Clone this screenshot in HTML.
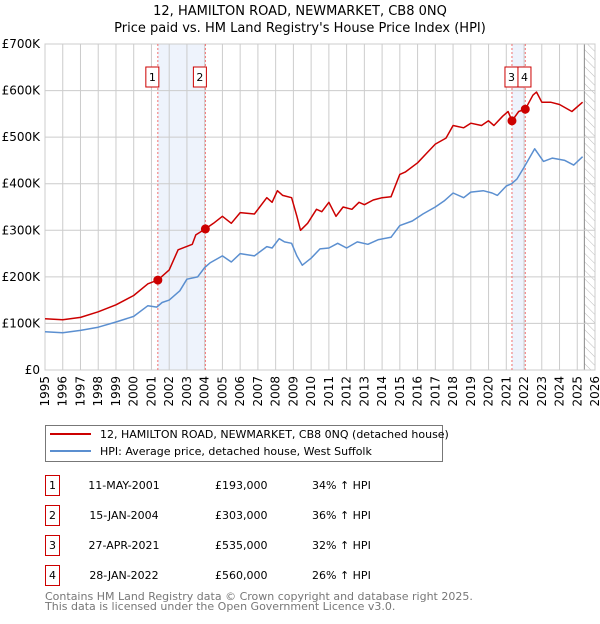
<!DOCTYPE html>
<html><head><meta charset="utf-8"><style>
body{margin:0;background:#fff;font-family:"DejaVu Sans","Liberation Sans",sans-serif;}
svg text{font-family:"DejaVu Sans","Liberation Sans",sans-serif;}
</style></head><body>
<svg id="chart" width="600" height="620" xmlns="http://www.w3.org/2000/svg">
<defs><pattern id="hatch" width="6" height="6" patternUnits="userSpaceOnUse" patternTransform="rotate(-45)"><line x1="0" y1="0" x2="0" y2="6" stroke="#bbb" stroke-width="1"/></pattern></defs>
<text x="300" y="15" text-anchor="middle" font-size="13">12, HAMILTON ROAD, NEWMARKET, CB8 0NQ</text>
<text x="300" y="32" text-anchor="middle" font-size="13">Price paid vs. HM Land Registry's House Price Index (HPI)</text>
<g id="plot"></g>
<g>
<rect x="45.5" y="425.5" width="397" height="36" fill="#fff" stroke="#777"/>
<line x1="50" y1="434" x2="91" y2="434" stroke="#cc0000" stroke-width="2"/>
<text x="100" y="438" font-size="11">12, HAMILTON ROAD, NEWMARKET, CB8 0NQ (detached house)</text>
<line x1="50" y1="451" x2="91" y2="451" stroke="#5b8fd0" stroke-width="2"/>
<text x="100" y="455" font-size="11">HPI: Average price, detached house, West Suffolk</text>
</g>
<g id="table"></g>
<text x="45" y="600" font-size="11" fill="#777">Contains HM Land Registry data © Crown copyright and database right 2025.</text>
<text x="45" y="610" font-size="11" fill="#777">This data is licensed under the Open Government Licence v3.0.</text>
</svg>
<script>
const redYears=[1995,1996,1997,1998,1999,2000,2000.8,2001.36,2002,2002.5,2003.3,2003.5,2004.04,2004.5,2005,2005.5,2006,2006.8,2007.5,2007.8,2008.1,2008.4,2008.9,2009.2,2009.4,2009.8,2010.3,2010.6,2011,2011.4,2011.8,2012.3,2012.7,2013,2013.5,2014,2014.5,2015,2015.3,2016,2016.5,2017,2017.6,2018,2018.6,2019,2019.6,2020,2020.3,2020.8,2021.1,2021.32,2021.7,2022.07,2022.5,2022.7,2023,2023.5,2024,2024.7,2025.3];
const redValues=[110,108,113,125,140,160,185,193,215,258,270,290,303,315,330,315,338,335,370,360,385,375,370,330,300,315,345,340,360,330,350,345,360,355,365,370,372,420,425,445,465,485,498,525,520,530,525,535,525,545,555,535,555,560,590,597,575,575,570,555,575];
const hpiYears=[1995,1996,1997,1998,1999,2000,2000.8,2001.3,2001.6,2002,2002.6,2003,2003.6,2004,2004.3,2005,2005.5,2006,2006.8,2007.5,2007.8,2008.2,2008.5,2008.9,2009.2,2009.5,2010,2010.5,2011,2011.5,2012,2012.6,2013.2,2013.8,2014.5,2015,2015.7,2016.3,2017,2017.5,2018,2018.6,2019,2019.7,2020.2,2020.5,2021,2021.3,2021.6,2022,2022.6,2023.1,2023.6,2024.3,2024.8,2025.3];
const hpiValues=[82,80,85,92,103,115,138,135,145,150,170,195,200,220,230,245,232,250,245,265,262,282,275,272,245,225,240,260,262,272,262,275,270,280,285,310,320,335,350,363,380,370,382,385,380,375,395,400,410,435,475,448,455,450,440,458];
const saleLabels=["1","2","3","4"];
const saleYears=[2001.36,2004.04,2021.32,2022.07];
const salePrices=[193,303,535,560];
const saleDates=["11-MAY-2001","15-JAN-2004","27-APR-2021","28-JAN-2022"];
const salePriceText=["£193,000","£303,000","£535,000","£560,000"];
const saleHpiText=["34% ↑ HPI","36% ↑ HPI","32% ↑ HPI","26% ↑ HPI"];
const yTicks=[0,100,200,300,400,500,600,700];
const yTickLabels=["£0","£100K","£200K","£300K","£400K","£500K","£600K","£700K"];
const xTicks=[1995,1996,1997,1998,1999,2000,2001,2002,2003,2004,2005,2006,2007,2008,2009,2010,2011,2012,2013,2014,2015,2016,2017,2018,2019,2020,2021,2022,2023,2024,2025,2026];

const NS="http://www.w3.org/2000/svg";
const L=45,R=595,T=44,B=370;
const xs=y=>L+(y-1995)/31*(R-L);
const ys=v=>B-v/700*(B-T);
function mk(tag,attrs,parent){const e=document.createElementNS(NS,tag);for(const k in attrs)e.setAttribute(k,attrs[k]);parent.appendChild(e);return e;}
const P=document.getElementById('plot');
let s1=mk('rect',{x:xs(saleYears[0]),y:T,width:xs(saleYears[1])-xs(saleYears[0]),height:B-T,fill:'#eef3fc'},P);


let s2=mk('rect',{x:xs(saleYears[2]),y:T,width:xs(saleYears[3])-xs(saleYears[2]),height:B-T,fill:'#eef3fc'},P);


let h=mk('rect',{x:xs(2025.4),y:T,width:R-xs(2025.4),height:B-T,fill:'url(#hatch)'},P);


mk('line',{x1:xs(2025.4),y1:T,x2:xs(2025.4),y2:B,stroke:'#888'},P);
xTicks.forEach(t=>{
 let g=mk('line',{x1:xs(t),y1:T,x2:xs(t),y2:B,stroke:'#ccc'},P);
 
 
 let tx=mk('text',{x:xs(t)+4,y:B+6,'font-size':12,'text-anchor':'end',transform:`rotate(-90 ${xs(t)+4} ${B+6})`},P);
 tx.textContent=t;
 
 
});
yTicks.forEach((t,i)=>{
 let g=mk('line',{x1:L,y1:ys(t),x2:R,y2:ys(t),stroke:'#ccc'},P);
 
 
 let tx=mk('text',{x:L-5,y:ys(t)+4,'font-size':12,'text-anchor':'end'},P);
 tx.textContent=yTickLabels[i];
 
 
});
mk('rect',{x:L,y:T,width:R-L,height:B-T,fill:'none',stroke:'#ccc'},P);
saleYears.forEach((y,i)=>{
 let v=mk('line',{x1:xs(y),y1:T,x2:xs(y),y2:B,stroke:'#f07070','stroke-dasharray':'2,2'},P);
 
 
});
function line(xa,va,color,name){
 let d=xa.map((x,i)=>(i?'L':'M')+xs(x).toFixed(1)+','+ys(va[i]).toFixed(1)).join('');
 let p=mk('path',{d:d,fill:'none',stroke:color,'stroke-width':1.5,'stroke-linejoin':'round'},P);
 
 
}
line(hpiYears,hpiValues,'#5b8fd0','hpi-line');
line(redYears,redValues,'#cc0000','price-paid-line');
saleYears.forEach((y,i)=>{
 let c=mk('circle',{cx:xs(y),cy:ys(salePrices[i]),r:4.5,fill:'#cc0000'},P);
 
 
});
saleLabels.forEach((s,i)=>{
 let bx=i<2?xs(saleYears[i])-12:(i==2?xs(saleYears[2])-7:xs(saleYears[2])+6);
 let g=mk('g',{},P);
 
 
 mk('rect',{x:bx,y:67,width:13,height:20,fill:'#fff',stroke:'#cc0000'},g);
 let t=mk('text',{x:bx+6.5,y:81,'font-size':11,'text-anchor':'middle'},g);
 t.textContent=s;
});
const TB=document.getElementById('table');
saleLabels.forEach((s,i)=>{
 const y=475+i*30;
 let g=mk('g',{},TB);
 
 
 mk('rect',{x:45.5,y:y+0.5,width:14,height:20,fill:'#fff',stroke:'#cc0000'},g);
 let a=mk('text',{x:52.5,y:y+14,'font-size':11,'text-anchor':'middle'},g);a.textContent=s;
 let b=mk('text',{x:124,y:y+14,'font-size':11,'text-anchor':'middle'},g);b.textContent=saleDates[i];
 let c=mk('text',{x:215,y:y+14,'font-size':11},g);c.textContent=salePriceText[i];
 let d=mk('text',{x:312,y:y+14,'font-size':11},g);d.textContent=saleHpiText[i];
});
</script>
</body></html>
